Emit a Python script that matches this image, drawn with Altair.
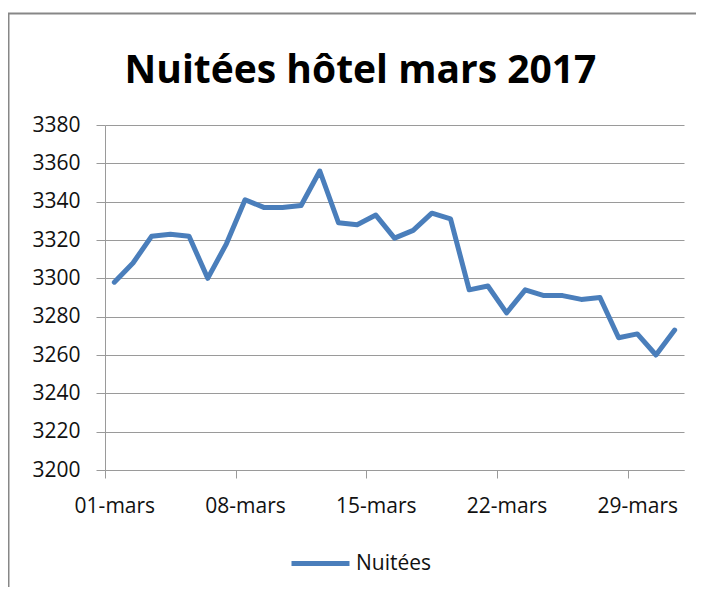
import altair as alt
import pandas as pd

# ---- data ----
days = list(range(1, 32))
nuitees = [3298, 3308, 3322, 3323, 3322, 3300, 3318, 3341, 3337, 3337,
           3338, 3356, 3329, 3328, 3333, 3321, 3325, 3334, 3331, 3294,
           3296, 3282, 3294, 3291, 3291, 3289, 3290, 3269, 3271, 3260,
           3273]
series_name = "Nuitées"
title_text = "Nuitées hôtel mars 2017"
y_ticks = [3200, 3220, 3240, 3260, 3280, 3300, 3320, 3340, 3360, 3380]
label_days = [1, 8, 15, 22, 29]
month_label = "mars"

df = pd.DataFrame({"jour": days, "valeur": nuitees,
                   "serie": [series_name] * len(days)})

FONT = "Open Sans"
GRAY = "#9a9a9a"
W, H = 579, 345
half_band = W / len(days) / 2

label_expr = ("(round(datum.value + 0.5) < 10 ? '0' : '') + round(datum.value + 0.5) + '-"
              + month_label + "'")

line = alt.Chart(df).mark_line(
    strokeWidth=5, strokeCap="round", strokeJoin="round"
).encode(
    x=alt.X("jour:Q",
            scale=alt.Scale(domain=[0.5, len(days) + 0.5], nice=False, zero=False),
            axis=alt.Axis(values=[d - 0.5 for d in label_days], labelExpr=label_expr,
                          labelOffset=half_band, title=None, grid=False,
                          tickSize=8, tickColor=GRAY, domainColor=GRAY,
                          labelFont=FONT, labelFontSize=21, labelColor="#111",
                          labelPadding=17, labelFlush=False, labelOverlap=False)),
    y=alt.Y("valeur:Q",
            scale=alt.Scale(domain=[y_ticks[0], y_ticks[-1]], nice=False, zero=False),
            axis=alt.Axis(values=y_ticks, title=None, grid=True, gridColor=GRAY,
                          tickSize=9, tickColor=GRAY, domainColor=GRAY,
                          labelFont=FONT, labelFontSize=21, labelColor="#111",
                          labelPadding=16, format="d")),
    color=alt.Color("serie:N", scale=alt.Scale(range=["#4A7EBB"]),
                    legend=alt.Legend(title=None, orient="none", legendX=184, legendY=407,
                                      symbolType="stroke", symbolSize=3364,
                                      symbolStrokeWidth=5, labelFont=FONT,
                                      labelFontSize=21, labelColor="#111",
                                      labelOffset=4, padding=0))
)

one = pd.DataFrame({"k": [0]})
border_left = alt.Chart(one).mark_rule(color="#878787", strokeWidth=2).encode(
    x=alt.value(-96.5), y=alt.value(-112), y2=alt.value(H + 117))
border_top = alt.Chart(one).mark_rule(color="#878787", strokeWidth=2).encode(
    x=alt.value(-97), x2=alt.value(W + 12), y=alt.value(-111.5))

chart = alt.layer(border_left, border_top, line).properties(
    width=W, height=H,
    autosize=alt.AutoSizeParams(type="none"),
    padding={"left": 97, "top": 117, "right": 12, "bottom": 117},
    title=alt.Title(title_text, font=FONT, fontSize=39, fontWeight="bold",
                    color="#000", anchor="middle", frame="group", dx=-34, offset=-79)
).configure_view(stroke=None)

chart.save("out.html", embed_options={"renderer": "svg", "actions": False})
